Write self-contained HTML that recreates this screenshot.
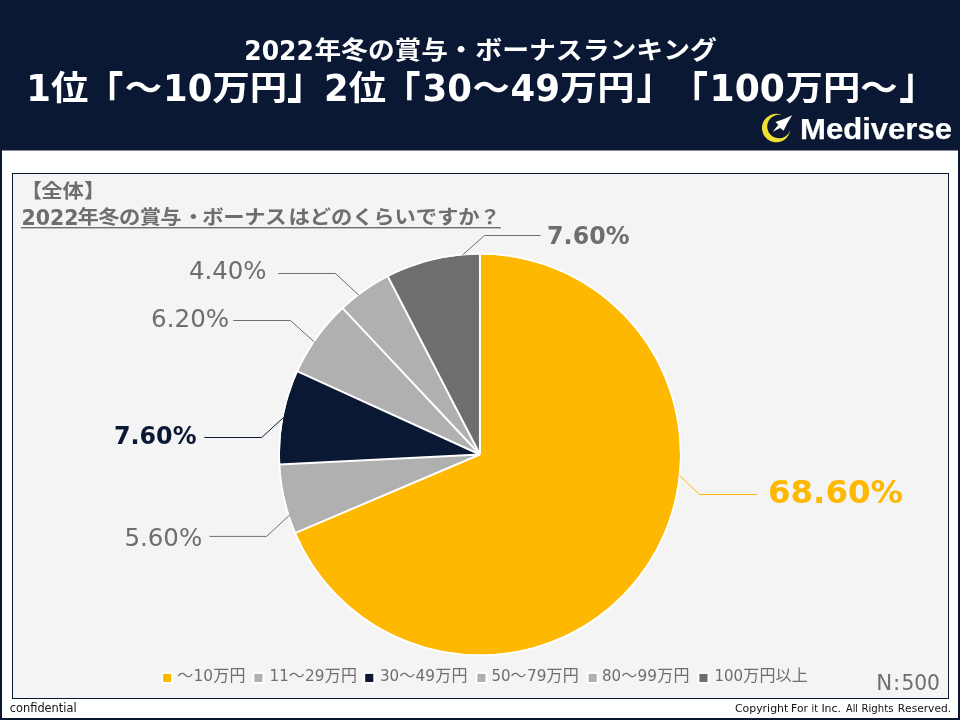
<!DOCTYPE html>
<html lang="ja">
<head>
<meta charset="utf-8">
<title>2022年冬の賞与・ボーナスランキング</title>
<style>
html,body{margin:0;padding:0;background:#fff;}
body{width:960px;height:720px;overflow:hidden;}
svg{display:block;}
svg text{font-family:"DejaVu Sans","Liberation Sans","Noto Sans CJK JP",sans-serif;text-spacing-trim:space-all;font-kerning:none;}
.b{font-weight:bold;}
.w{fill:#fff;}
.g{fill:#6e6e6e;}
.ld{stroke-width:1;fill:none;}
</style>
</head>
<body>
<svg width="960" height="720" viewBox="0 0 960 720">
  <!-- page frame -->
  <rect x="0" y="0" width="960" height="720" fill="#0a1833"/>
  <rect x="2" y="150.5" width="956" height="567.5" fill="#fff"/>

  <!-- header titles -->
  <text class="b w" transform="translate(0,59.7) scale(1,0.92)" font-size="26.67"><tspan x="244.3" font-size="28.99" textLength="69.6" lengthAdjust="spacingAndGlyphs">2022</tspan><tspan x="314.6" dy="-0.87">年冬の賞与・</tspan><tspan x="475.3" textLength="241.6" lengthAdjust="spacingAndGlyphs">ボーナスランキング</tspan></text>
  <text class="b w" transform="translate(0,100.8) scale(1,0.92)" font-size="37.33"><tspan x="26.3" font-size="40.58" textLength="24.7" lengthAdjust="spacingAndGlyphs">1</tspan><tspan x="51" dy="-1.09">位</tspan><tspan x="86" dy="10.69" font-size="49.65" textLength="37.33" lengthAdjust="spacingAndGlyphs">「</tspan><tspan x="124.8" dy="-10.69">～</tspan><tspan x="163" dy="1.09" font-size="40.58" textLength="49.4" lengthAdjust="spacingAndGlyphs">10</tspan><tspan x="212.4" dy="-1.09">万円</tspan><tspan x="287.1" dy="-1.40" font-size="49.65" textLength="37.33" lengthAdjust="spacingAndGlyphs">」</tspan><tspan x="324" dy="2.49" font-size="40.58" textLength="24.7" lengthAdjust="spacingAndGlyphs">2</tspan><tspan x="348.7" dy="-1.09">位</tspan><tspan x="383.3" dy="10.69" font-size="49.65" textLength="37.33" lengthAdjust="spacingAndGlyphs">「</tspan><tspan x="422.6" dy="-9.61" font-size="40.58" textLength="49.4" lengthAdjust="spacingAndGlyphs">30</tspan><tspan x="472.4" dy="-1.09">～</tspan><tspan x="510.5" dy="1.09" font-size="40.58" textLength="49.4" lengthAdjust="spacingAndGlyphs">49</tspan><tspan x="559.9" dy="-1.09">万円</tspan><tspan x="636.4" dy="-1.40" font-size="49.65" textLength="37.33" lengthAdjust="spacingAndGlyphs">」</tspan><tspan x="670.8" dy="12.10" font-size="49.65" textLength="37.33" lengthAdjust="spacingAndGlyphs">「</tspan><tspan x="709.6" dy="-9.61" font-size="40.58" textLength="75.4" lengthAdjust="spacingAndGlyphs">100</tspan><tspan x="785.6" dy="-1.09">万円～</tspan><tspan x="899.3" dy="-1.40" font-size="49.65" textLength="37.33" lengthAdjust="spacingAndGlyphs">」</tspan></text>

  <!-- logo -->
  <g id="logo">
    <path d="M782.4 115.2A14.25 14.25 0 1 0 790.4 129.6A11.8 11.8 0 1 1 782.4 115.2Z" fill="#efe034"/>
    <path d="M792.2 115.3Q783.4 119.8 775.4 121.9L778.4 124.8L772.8 131.7L780.2 128L783.6 130.8Q786.7 123.3 792.2 115.3Z" fill="#fff"/>
    <text class="b w" x="800" y="138.8" font-size="30" textLength="152" lengthAdjust="spacingAndGlyphs" style="font-family:'Liberation Sans',sans-serif" stroke="#fff" stroke-width="0.25" stroke-linejoin="round">Mediverse</text>
  </g>

  <!-- chart panel -->
  <rect x="12.5" y="173.5" width="936" height="525" fill="#f4f4f4" stroke="#0a1833" stroke-width="1"/>

  <text class="b g" transform="translate(0,198.4) scale(1,0.92)" font-size="21.33"><tspan x="20.8">【</tspan><tspan x="41.3">全体】</tspan></text>
  <text class="b g" transform="translate(0,225) scale(1,0.92)" font-size="21.33"><tspan x="21.6" font-size="23.18" textLength="57" lengthAdjust="spacingAndGlyphs">2022</tspan><tspan x="77.6" dy="-0.76" textLength="104.1" lengthAdjust="spacing">年冬の賞与</tspan><tspan x="182.8">・</tspan><tspan x="202.3" textLength="84.3" lengthAdjust="spacing">ボーナス</tspan><tspan x="288.6" textLength="190.9" lengthAdjust="spacing">はどのくらいですか</tspan><tspan x="479.3">？</tspan></text>
  <rect x="21" y="227" width="479.7" height="1.4" fill="#6e6e6e"/>

  <!-- pie -->
  <g>
    <path d="M479.95 454.5L479.95 254.45A200.05 200.05 0 1 1 295.86 532.79Z" fill="#ffb800"/>
    <path d="M479.95 454.5L295.86 532.79A200.05 200.05 0 0 1 280.15 464.55Z" fill="#b0b0b0"/>
    <path d="M479.95 454.5L280.15 464.55A200.05 200.05 0 0 1 297.88 371.60Z" fill="#0a1833"/>
    <path d="M479.95 454.5L297.88 371.60A200.05 200.05 0 0 1 343.01 308.67Z" fill="#b0b0b0"/>
    <path d="M479.95 454.5L343.01 308.67A200.05 200.05 0 0 1 388.01 276.83Z" fill="#b0b0b0"/>
    <path d="M479.95 454.5L388.01 276.83A200.05 200.05 0 0 1 479.95 254.45Z" fill="#6e6e6e"/>
  </g>
  <path d="M479.95 454.5L479.95 253.45M479.95 454.5L294.94 533.19M479.95 454.5L279.15 464.60M479.95 454.5L296.97 371.19M479.95 454.5L342.32 307.94M479.95 454.5L387.55 275.94" stroke="#fff" stroke-width="2" stroke-linecap="butt" stroke-linejoin="round" fill="none"/>
  <circle cx="479.95" cy="454.5" r="200.90" fill="none" stroke="#fff" stroke-width="1.7"/>

  <!-- leader lines -->
  <path class="ld" d="M679.4 475.4L699.5 494.5H756.8" stroke="#ffb800"/>
  <path class="ld" d="M462.3 255.2L484.5 235.5H540.6" stroke="#6e6e6e"/>
  <path class="ld" d="M278.3 273.5H335.4L359.1 295.4" stroke="#6e6e6e"/>
  <path class="ld" d="M233.3 320.5H290.4L314.4 342" stroke="#6e6e6e"/>
  <path class="ld" d="M204.4 437.5H261.7L283.5 417.5" stroke="#0a1833"/>
  <path class="ld" d="M209.4 536.4H266.7L290.1 514.6" stroke="#6e6e6e"/>

  <!-- data labels -->
  <text class="b" x="768" y="503.3" font-size="32" fill="#ffb800" textLength="135" lengthAdjust="spacingAndGlyphs">68.60%</text>
  <text class="b g" x="547.1" y="243.8" font-size="24" textLength="82.4" lengthAdjust="spacingAndGlyphs">7.60%</text>
  <text class="g" x="188.9" y="279.2" font-size="24" textLength="77.6" lengthAdjust="spacingAndGlyphs">4.40%</text>
  <text class="g" x="151.1" y="326.7" font-size="24" textLength="78" lengthAdjust="spacingAndGlyphs">6.20%</text>
  <text class="b" x="114" y="444.4" font-size="24" fill="#0a1833" textLength="82.5" lengthAdjust="spacingAndGlyphs">7.60%</text>
  <text class="g" x="124.4" y="545.7" font-size="24" textLength="77.8" lengthAdjust="spacingAndGlyphs">5.60%</text>

  <!-- legend -->
  <g stroke="#fff" stroke-width="2">
    <rect x="162.1" y="672.9" width="10.1" height="10.1" fill="#ffb800"/>
    <rect x="253.4" y="672.9" width="10.1" height="10.1" fill="#b0b0b0"/>
    <rect x="364.2" y="672.9" width="10.1" height="10.1" fill="#0a1833"/>
    <rect x="476.4" y="672.9" width="10.1" height="10.1" fill="#b0b0b0"/>
    <rect x="587.6" y="672.9" width="10.1" height="10.1" fill="#b0b0b0"/>
    <rect x="698.4" y="672.9" width="10.1" height="10.1" fill="#6e6e6e"/>
  </g>
  <text class="g" transform="translate(0,681.3) scale(1,0.965)" font-size="16"><tspan x="177.3" dy="-0.31">～</tspan><tspan x="193.6" dy="0.31" font-size="16.89" textLength="19.5" lengthAdjust="spacingAndGlyphs">10</tspan><tspan x="213.3" dy="-0.31" textLength="32.2" lengthAdjust="spacing">万円</tspan></text>
  <text class="g" transform="translate(0,681.3) scale(1,0.965)" font-size="16"><tspan x="269.6" font-size="16.89" textLength="19.2" lengthAdjust="spacingAndGlyphs">11</tspan><tspan x="288.8" dy="-0.31">～</tspan><tspan x="305.1" dy="0.31" font-size="16.89" textLength="19.5" lengthAdjust="spacingAndGlyphs">29</tspan><tspan x="324.8" dy="-0.31" textLength="32.2" lengthAdjust="spacing">万円</tspan></text>
  <text class="g" transform="translate(0,681.3) scale(1,0.965)" font-size="16"><tspan x="380" font-size="16.89" textLength="19.2" lengthAdjust="spacingAndGlyphs">30</tspan><tspan x="399.2" dy="-0.31">～</tspan><tspan x="415.5" dy="0.31" font-size="16.89" textLength="19.5" lengthAdjust="spacingAndGlyphs">49</tspan><tspan x="435.2" dy="-0.31" textLength="32.2" lengthAdjust="spacing">万円</tspan></text>
  <text class="g" transform="translate(0,681.3) scale(1,0.965)" font-size="16"><tspan x="491.4" font-size="16.89" textLength="19.2" lengthAdjust="spacingAndGlyphs">50</tspan><tspan x="510.6" dy="-0.31">～</tspan><tspan x="526.9" dy="0.31" font-size="16.89" textLength="19.5" lengthAdjust="spacingAndGlyphs">79</tspan><tspan x="546.6" dy="-0.31" textLength="32.2" lengthAdjust="spacing">万円</tspan></text>
  <text class="g" transform="translate(0,681.3) scale(1,0.965)" font-size="16"><tspan x="602" font-size="16.89" textLength="19.2" lengthAdjust="spacingAndGlyphs">80</tspan><tspan x="621.2" dy="-0.31">～</tspan><tspan x="637.5" dy="0.31" font-size="16.89" textLength="19.5" lengthAdjust="spacingAndGlyphs">99</tspan><tspan x="657.2" dy="-0.31" textLength="32.2" lengthAdjust="spacing">万円</tspan></text>
  <text class="g" transform="translate(0,681.3) scale(1,0.965)" font-size="16"><tspan x="714.5" font-size="16.89" textLength="28.6" lengthAdjust="spacingAndGlyphs">100</tspan><tspan x="743.3" dy="-0.31" textLength="64.4" lengthAdjust="spacing">万円以上</tspan></text>

  <text class="g" y="690" font-size="21.33"><tspan x="876.2">N</tspan><tspan x="893">:</tspan><tspan x="901.4" textLength="38.6" lengthAdjust="spacingAndGlyphs">500</tspan></text>

  <!-- footer -->
  <text x="9.8" y="711.6" font-size="12.4" fill="#111" textLength="66.8" lengthAdjust="spacingAndGlyphs">confidential</text>
  <text y="711.6" font-size="11" fill="#111"><tspan x="734.9" textLength="53.4" lengthAdjust="spacingAndGlyphs">Copyright</tspan> <tspan x="790.9" textLength="17.1" lengthAdjust="spacingAndGlyphs">For</tspan> <tspan x="811.5" textLength="6.4" lengthAdjust="spacingAndGlyphs">it</tspan> <tspan x="821.4" textLength="19.7" lengthAdjust="spacingAndGlyphs">Inc.</tspan> <tspan x="846.1" textLength="11.9" lengthAdjust="spacingAndGlyphs">All</tspan> <tspan x="861.4" textLength="32.1" lengthAdjust="spacingAndGlyphs">Rights</tspan> <tspan x="897.7" textLength="53.4" lengthAdjust="spacingAndGlyphs">Reserved.</tspan></text>
</svg>
</body>
</html>
